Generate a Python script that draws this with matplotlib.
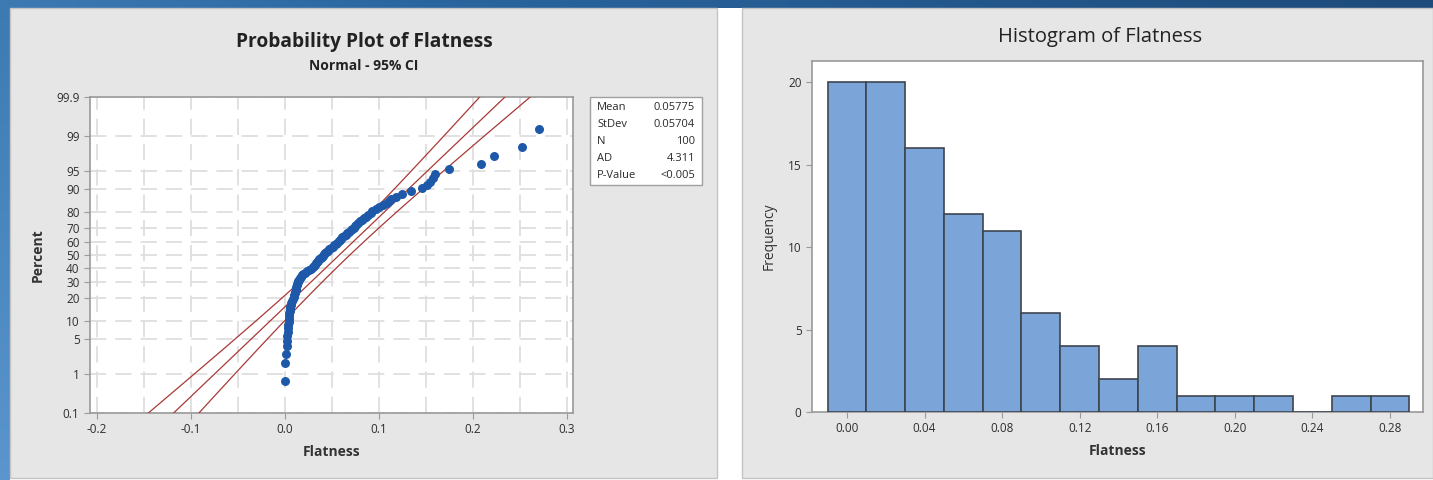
import numpy as np
import matplotlib
matplotlib.use("Agg")
import matplotlib.pyplot as plt
from matplotlib.patches import Rectangle
from matplotlib.colors import LinearSegmentedColormap
from statistics import NormalDist

plt.rcParams['font.family'] = ['Open Sans', 'DejaVu Sans']

# sorted Flatness readings, estimated from the probability plot and histogram
flatness = [
    0.000, 0.000, 0.001, 0.002, 0.002, 0.002, 0.003, 0.003, 0.003, 0.004,
    0.004, 0.004, 0.004, 0.005, 0.005, 0.005, 0.006, 0.006, 0.007, 0.008,
    0.010, 0.010, 0.011, 0.011, 0.012, 0.012, 0.012, 0.013, 0.013, 0.014,
    0.014, 0.015, 0.016, 0.017, 0.018, 0.019, 0.021, 0.023, 0.026, 0.028,
    0.030, 0.031, 0.032, 0.033, 0.034, 0.035, 0.036, 0.038, 0.039, 0.040,
    0.042, 0.043, 0.044, 0.046, 0.047, 0.049,
    0.051, 0.052, 0.054, 0.055, 0.057, 0.058, 0.060, 0.061, 0.063, 0.065,
    0.066, 0.068,
    0.070, 0.071, 0.073, 0.074, 0.076, 0.078, 0.080, 0.082, 0.084, 0.086,
    0.088,
    0.091, 0.093, 0.097, 0.100, 0.104, 0.108,
    0.111, 0.113, 0.118, 0.124,
    0.134, 0.146,
    0.151, 0.154, 0.157, 0.160,
    0.174, 0.208, 0.222, 0.252, 0.270,
]

mean, stdev, n_obs = 0.05775, 0.05704, 100
stat_labels = ["Mean", "StDev", "N", "AD", "P-Value"]
stat_values = ["0.05775", "0.05704", "100", "4.311", "<0.005"]

pct_ticks = [0.1, 1, 5, 10, 20, 30, 40, 50, 60, 70, 80, 90, 95, 99, 99.9]
pct_labels = ["0.1", "1", "5", "10", "20", "30", "40", "50", "60", "70",
              "80", "90", "95", "99", "99.9"]
pp_xticks = [-0.2, -0.1, 0.0, 0.1, 0.2, 0.3]
pp_xlabels = ["-0.2", "-0.1", "0.0", "0.1", "0.2", "0.3"]

bin_centers = [0.00, 0.02, 0.04, 0.06, 0.08, 0.10, 0.12, 0.14, 0.16, 0.18,
               0.20, 0.22, 0.24, 0.26, 0.28]
bin_counts = [20, 20, 16, 12, 11, 6, 4, 2, 4, 1, 1, 1, 0, 1, 1]
hist_xticks = [0.00, 0.04, 0.08, 0.12, 0.16, 0.20, 0.24, 0.28]
hist_yticks = [0, 5, 10, 15, 20]

W, H = 1433, 480
fig = plt.figure(figsize=(W / 100, H / 100), dpi=100)


def box(x0, y0, x1, y1):
    # pixel box (from top-left) -> figure fraction rect
    return [x0 / W, 1 - y1 / H, (x1 - x0) / W, (y1 - y0) / H]


# slide background + grey panels, drawn in pixel coordinates
bg = fig.add_axes([0, 0, 1, 1], zorder=-5)
bg.set_xlim(0, W)
bg.set_ylim(H, 0)
bg.axis('off')
g = np.linspace(0, 1, 200)
gx, gy = np.meshgrid(g, g)
cmap = LinearSegmentedColormap.from_list('bg', ['#5a96cd', '#2a66a0', '#1d4b7b'])
bg.imshow(0.7 * gx + 0.3 * (1 - gy), cmap=cmap, aspect='auto', extent=[0, W, H, 0])
bg.add_patch(Rectangle((10, 8), W - 10, H - 8, facecolor='white', edgecolor='none'))
bg.add_patch(Rectangle((10, 8), 707, 470, facecolor='#e6e6e6', edgecolor='#c4c4c4', lw=1))
bg.add_patch(Rectangle((742, 8), W - 742, 470, facecolor='#e6e6e6', edgecolor='#c4c4c4', lw=1))

tick_col = '#2e2e2e'
spine_col = '#9a9a9a'
grid_col = '#dedede'

# ---------- probability plot ----------
nd = NormalDist()
ax1 = fig.add_axes(box(90, 97, 573, 413))
ax1.set_facecolor('white')
zlo, zhi = nd.inv_cdf(0.001), nd.inv_cdf(0.999)

ranks = np.arange(1, n_obs + 1)
z_pts = [nd.inv_cdf((i - 0.3) / (n_obs + 0.4)) for i in ranks]

zz = np.linspace(zlo - 0.2, zhi + 0.2, 200)
fit = mean + stdev * zz
half = 1.96 * stdev * np.sqrt(1 / n_obs + zz ** 2 / (2 * n_obs))
red = '#a83a36'
ax1.plot(fit, zz, color=red, lw=0.9, zorder=3)
ax1.plot(fit - half, zz, color=red, lw=0.9, zorder=3)
ax1.plot(fit + half, zz, color=red, lw=0.9, zorder=3)
ax1.scatter(flatness, z_pts, s=42, color='#1d59a8', zorder=4, linewidths=0)

ax1.set_xlim(-0.2075, 0.3064)
ax1.set_ylim(zlo, zhi)
ax1.set_xticks(pp_xticks)
ax1.set_xticklabels(pp_xlabels)
ax1.set_yticks([nd.inv_cdf(p / 100) for p in pct_ticks])
ax1.set_yticklabels(pct_labels)
ax1.set_xticks(np.arange(-0.2, 0.31, 0.05), minor=True)
ax1.grid(True, which='both', axis='x', color=grid_col, lw=1.3, ls=(0, (9, 5)))
ax1.grid(True, which='major', axis='y', color=grid_col, lw=1.3, ls=(0, (9, 5)))
ax1.tick_params(which='minor', length=0)
ax1.tick_params(which='major', length=4, color=spine_col, labelsize=8.5, labelcolor=tick_col)
for s in ax1.spines.values():
    s.set_color(spine_col)
    s.set_linewidth(1.2)
ax1.set_axisbelow(True)
ax1.set_xlabel('Flatness', fontsize=10, fontweight='bold', color='#333333', labelpad=6)
ax1.set_ylabel('Percent', fontsize=10, fontweight='bold', color='#333333', labelpad=8)

bg.text(364, 42, 'Probability Plot of Flatness', ha='center', va='center',
        fontsize=13.8, fontweight='bold', color='#222222')
bg.text(364, 66, 'Normal - 95% CI', ha='center', va='center',
        fontsize=10, fontweight='bold', color='#222222')

# statistics box
bg.add_patch(Rectangle((590, 97), 112, 88, facecolor='white', edgecolor='#a0a0a0', lw=1))
for k, (lab, val) in enumerate(zip(stat_labels, stat_values)):
    yy = 108 + k * 16.8
    bg.text(597, yy, lab, ha='left', va='center', fontsize=8, color='#2a2a2a')
    bg.text(695, yy, val, ha='right', va='center', fontsize=8, color='#2a2a2a')

# ---------- histogram ----------
ax2 = fig.add_axes(box(812, 61, 1423, 412))
ax2.set_facecolor('white')
ax2.bar(bin_centers, bin_counts, width=0.02, color='#7ba5d9',
        edgecolor='#3d4650', linewidth=1.2, zorder=3)
ax2.set_xlim(-0.018, 0.297)
ax2.set_ylim(0, 21.3)
ax2.set_xticks(hist_xticks)
ax2.set_xticklabels([f'{t:.2f}' for t in hist_xticks])
ax2.set_yticks(hist_yticks)
ax2.tick_params(length=4, color=spine_col, labelsize=8.5, labelcolor=tick_col)
for s in ax2.spines.values():
    s.set_color(spine_col)
    s.set_linewidth(1.2)
ax2.set_xlabel('Flatness', fontsize=10, fontweight='bold', color='#333333', labelpad=6)
ax2.set_ylabel('Frequency', fontsize=10, color='#333333', labelpad=8)

bg.text(1100, 37, 'Histogram of Flatness', ha='center', va='center',
        fontsize=14.5, color='#222222')

fig.savefig('out.png', dpi=100)
